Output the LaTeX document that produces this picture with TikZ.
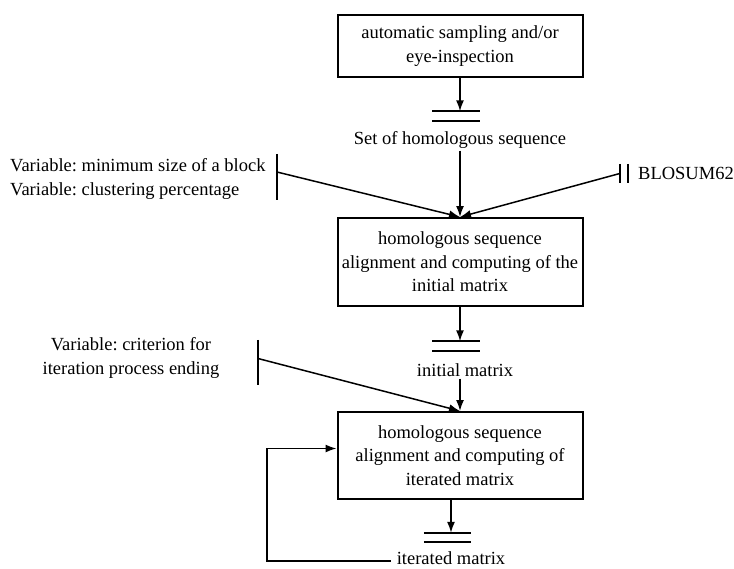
\documentclass[tikz,border=0pt]{standalone}
\usepackage{fontspec}
\setmainfont{Liberation Serif}
\usepackage{tikz}
\usetikzlibrary{arrows.meta,positioning,calc}
\frenchspacing

\begin{document}
\begin{tikzpicture}[x=1pt, y=-1pt,
font=\fontsize{18.5}{23.5}\selectfont,
proc/.style={draw, line width=2pt, minimum width=245pt, align=center, inner sep=0pt},
store/.style={minimum width=47pt, minimum height=9pt, inner sep=0pt},
bar/.style={minimum width=0pt, inner sep=0pt},
lbl/.style={inner sep=2pt, align=center},
rel/.style={-{Latex[length=11pt,width=8pt]}, line width=1.5pt}
]
\useasboundingbox (0,0) rectangle (734,568);
% boxes
\node[proc, minimum height=62pt] (sampling) at (460,46) {automatic sampling and/or\\eye-inspection};
\node[proc, minimum height=88pt] (initial) at (460,262) {homologous sequence\\alignment and computing of the\\initial matrix};
\node[proc, minimum height=87pt] (iter) at (460,455.5) {homologous sequence\\alignment and computing of\\iterated matrix};
% stores
\node[store] (db1) at (456,116) {};
\node[store] (db2) at (456,346) {};
\node[store] (db3) at (447.5,537.5) {};
\foreach \s in {db1,db2,db3} {
  \draw[line width=2pt] (\s.north west) -- (\s.north east);
  \draw[line width=2pt] (\s.south west) -- (\s.south east);
}
\node[lbl] (homseq) at (460,140) {Set of homologous sequence};
\node[lbl] (initmat) at (465,370) {initial matrix};
\node[lbl, inner sep=6pt] (itermat) at (451,558) {iterated matrix};
% variables
\node[bar, minimum height=46pt] (barA) at (277,177) {};
\node[bar, minimum height=45pt] (barB) at (258,362.5) {};
\node[bar, minimum width=8pt, minimum height=19pt] (barC) at (624,173.5) {};
\draw[line width=2.4pt] (barA.north) -- (barA.south);
\draw[line width=2.4pt] (barB.north) -- (barB.south);
\draw[line width=2.4pt] (barC.north west) -- (barC.south west);
\draw[line width=2.4pt] (barC.north east) -- (barC.south east);
\node[lbl, anchor=west] (minsize) at (8,165) {Variable: minimum size of a block};
\node[lbl, anchor=west] (cluster) at (8,191) {Variable: clustering percentage};
\node[lbl] (criterion) at (131,358) {Variable: criterion for\\iteration process ending};
\node[lbl, anchor=west] (blosum) at (636,173.5) {BLOSUM62};
% connectors
\draw[rel] (sampling.south) -- (sampling.south |- db1.north);
\draw[rel] (homseq.south -| initial.north) -- (initial.north);
\draw[rel] ($(barA.center)+(0,-5)$) -- (initial.north);
\draw[rel] (barC.west) -- (initial.north);
\draw[rel] (initial.south) -- (initial.south |- db2.north);
\draw[rel] (initmat.south -| iter.north) -- (iter.north);
\draw[rel] ($(barB.center)+(0,-4)$) -- (iter.north);
\draw[rel] (iter.south -| itermat) -- (itermat |- db3.north);
\coordinate (back) at (267,561);
\draw[rel] (itermat.west |- back) -- (back) |- ($(iter.west)+(0,-7)$);
\end{tikzpicture}
\end{document}
